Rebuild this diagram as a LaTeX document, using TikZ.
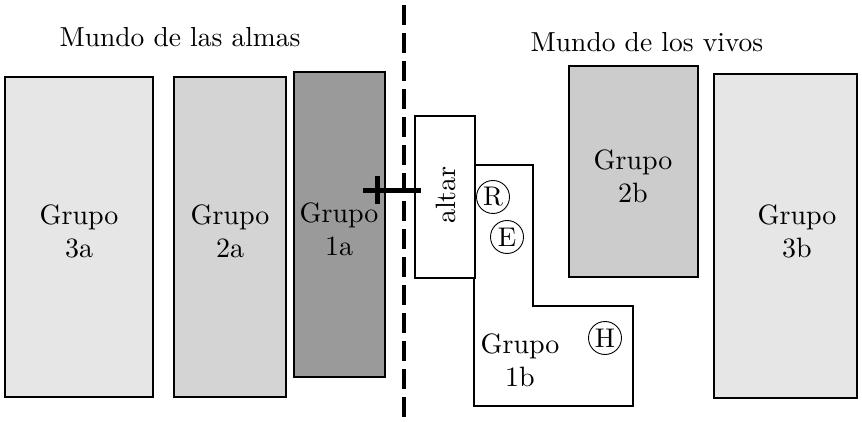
\documentclass[tikz,border=0pt]{standalone}
\usepackage{fontspec}
\setmainfont{lmroman10-regular.otf}
\usepackage{tikz}
\definecolor{gA}{HTML}{E6E6E6}
\definecolor{gB}{HTML}{D4D4D4}
\definecolor{gC}{HTML}{9A9A9A}
\definecolor{gD}{HTML}{CCCCCC}
\begin{document}
\begin{tikzpicture}[x=1pt,y=-1pt,
  box/.style={draw=black,line width=1.2pt},
  lbl/.style={align=center,inner sep=0pt,font=\fontsize{28}{33}\selectfont},
  ttl/.style={inner sep=0pt,font=\fontsize{27.5}{32}\selectfont},
  circ/.style={draw=black,circle,line width=0.9pt,minimum size=33pt,inner sep=0pt,font=\fontsize{27}{30}\selectfont}]
\useasboundingbox (0,0) rectangle (862,422);
% left world
\draw[box,fill=gA] (5,77) rectangle (153,397);
\draw[box,fill=gB] (174,77) rectangle (286,397);
\draw[box,fill=gC] (294,72) rectangle (385,377);
\node[lbl] (g3a) at (79,231) {Grupo\\3a};
\node[lbl] (g2a) at (230,231) {Grupo\\2a};
\node[lbl] (g1a) at (339,229) {Grupo\\1a};
\node[ttl] (tl) at (180,37) {Mundo de las almas};
\node[ttl] (tr) at (647,42) {Mundo de los vivos};
% divider
\draw[line width=3.5pt,dash pattern=on 20pt off 8pt] (404,5) -- (404,421);
% right world
\draw[box,fill=white] (474,165) -- (533,165) -- (533,306) -- (633,306) -- (633,406) -- (474,406) -- cycle;
\draw[box,fill=white] (415,116) rectangle (475,278);
\node[lbl,rotate=90] (altar) at (446,195) {altar};
\node[circ] (R) at (493,197) {R};
\node[circ] (E) at (507,237) {E};
\node[circ] (H) at (605,338) {H};
\node[lbl] (g1b) at (520,360) {Grupo\\1b};
\draw[box,fill=gD] (569,66) rectangle (698,277);
\node[lbl] (g2b) at (633,176) {Grupo\\2b};
\draw[box,fill=gA] (714,74) rectangle (857,398);
\node[lbl] (g3b) at (797,231) {Grupo\\3b};
% cross mark
\draw[line width=5pt] (363,191) -- (421,191);
\draw[line width=5pt] (377,176) -- (377,204);
\end{tikzpicture}
\end{document}
